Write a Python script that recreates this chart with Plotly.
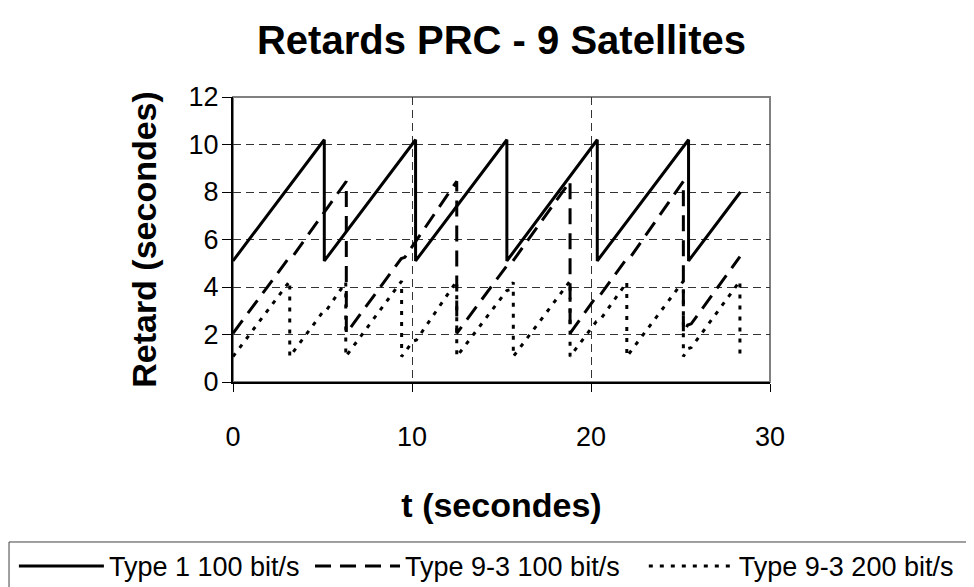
import plotly.graph_objects as go

# ---- data ----
t_type1 = [0, 5.1, 5.1, 10.2, 10.2, 15.3, 15.3, 20.35, 20.35, 25.45, 25.45, 28.35]
r_type1 = [5.1, 10.2, 5.1, 10.2, 5.1, 10.2, 5.1, 10.2, 5.1, 10.2, 5.1, 8.0]

t_type93_100 = [0, 3.1, 3.3, 6.33, 6.33, 9.4, 9.6, 12.5, 12.5, 15.35, 15.6, 18.83, 18.83,
                20.3, 20.5, 22.0, 22.2, 25.16, 25.16, 25.4, 25.6, 28.32]
r_type93_100 = [2.05, 5.2, 5.25, 8.45, 2.05, 5.2, 5.25, 8.45, 2.05, 4.95, 5.05, 8.45, 2.05,
                3.6, 3.65, 5.2, 5.25, 8.45, 2.05, 2.4, 2.45, 5.28]

t_type93_200 = [0, 3.17, 3.17, 5.05, 5.2, 6.3, 6.3, 9.42, 9.42, 10.05, 10.25, 12.5, 12.5,
                15.3, 15.45, 15.66, 15.66, 18.83, 18.83, 20.3, 20.5, 22.0, 22.0,
                25.16, 25.16, 25.4, 25.6, 28.32, 28.32]
r_type93_200 = [1.07, 4.25, 1.07, 2.98, 3.0, 4.2, 1.07, 4.25, 1.07, 1.72, 1.77, 4.25, 1.07,
                3.85, 3.88, 4.2, 1.07, 4.25, 1.07, 2.55, 2.6, 4.2, 1.07,
                4.25, 1.07, 1.4, 1.45, 4.25, 1.1]

series_names = ["Type 1 100 bit/s", "Type 9-3 100 bit/s", "Type 9-3 200 bit/s"]
x_ticks = [0, 10, 20, 30]
y_ticks = [0, 2, 4, 6, 8, 10, 12]

FONT = "Arial, Liberation Sans, sans-serif"
W, H = 966, 579   # page body has an 8px margin

fig = go.Figure()
fig.add_trace(go.Scatter(x=t_type1, y=r_type1, mode="lines", name=series_names[0],
                         legend="legend",
                         line=dict(color="black", width=3)))
fig.add_trace(go.Scatter(x=t_type93_100, y=r_type93_100, mode="lines", name=series_names[1],
                         legend="legend2",
                         line=dict(color="black", width=3, dash="16px,9px")))
fig.add_trace(go.Scatter(x=t_type93_200, y=r_type93_200, mode="lines", name=series_names[2],
                         legend="legend3",
                         line=dict(color="black", width=3, dash="4px,7px")))

# gray top/right frame of the plot area
fig.add_shape(type="rect", xref="paper", yref="paper", x0=0, x1=1, y0=0, y1=1,
              line=dict(color="#808080", width=2), layer="below")
# common legend frame (extends past the page edge like the reference)
fig.add_shape(type="rect", xref="paper", yref="paper",
              x0=-0.4171, x1=1.40, y0=-0.80, y1=-0.5614,
              line=dict(color="#404040", width=1), layer="above")

leg_common = dict(orientation="h", xanchor="left", yanchor="top", y=-0.561,
                  borderwidth=0, bgcolor="rgba(0,0,0,0)",
                  font=dict(size=27, family=FONT, color="black"),
                  itemwidth=85, itemclick=False)

fig.update_layout(
    width=W, height=H,
    margin=dict(l=225, r=204, t=89, b=205, autoexpand=False),
    paper_bgcolor="white", plot_bgcolor="white",
    font=dict(family=FONT, color="black", size=27),
    title=dict(text="<b>Retards PRC - 9 Satellites</b>", x=0.5, xref="paper",
               y=1 - 32 / H, yanchor="middle", yref="container",
               font=dict(size=40, family=FONT, color="black")),
    showlegend=True,
    legend=dict(leg_common, x=-0.408),
    legend2=dict(leg_common, x=0.1434),
    legend3=dict(leg_common, x=0.765),
    xaxis=dict(range=[0, 30], tickvals=x_ticks, ticktext=[str(v) for v in x_ticks],
               automargin=False,
               showline=True, linecolor="black", linewidth=2,
               ticks="outside", ticklen=8, tickcolor="black", tickwidth=1,
               ticklabelstandoff=22,
               showgrid=True, gridcolor="#333333", gridwidth=1, griddash="8px,5px",
               zeroline=False,
               title=dict(text="<b>t (secondes)</b>", standoff=42,
                          font=dict(size=34, family=FONT, color="black"))),
    yaxis=dict(range=[0, 12], tickvals=y_ticks, ticktext=[str(v) for v in y_ticks],
               automargin=False,
               showline=True, linecolor="black", linewidth=2,
               ticks="outside", ticklen=9, tickcolor="black", tickwidth=1,
               ticklabelstandoff=-2,
               showgrid=True, gridcolor="#333333", gridwidth=1, griddash="8px,5px",
               zeroline=False,
               title=dict(text="<b>Retard (secondes)</b>", standoff=22,
                          font=dict(size=34, family=FONT, color="black"))),
)

fig.write_html("out.html")
